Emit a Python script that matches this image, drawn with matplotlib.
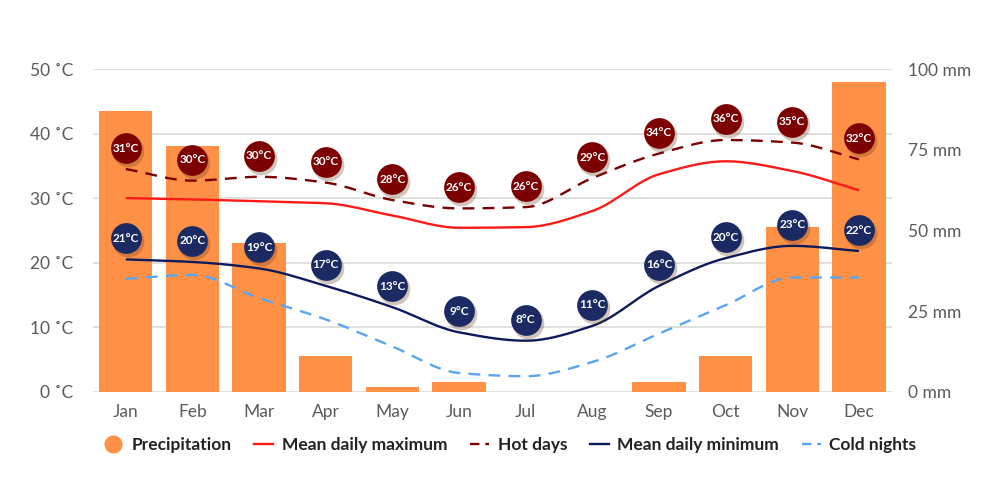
import numpy as np
import matplotlib
matplotlib.use('Agg')
import matplotlib.pyplot as plt
import matplotlib.transforms as mtransforms
from matplotlib.lines import Line2D

plt.rcParams['font.family'] = ['Lato', 'DejaVu Sans']

months = ['Jan', 'Feb', 'Mar', 'Apr', 'May', 'Jun', 'Jul', 'Aug', 'Sep', 'Oct', 'Nov', 'Dec']
precipitation = [87, 76, 46, 11, 1.5, 3, 0, 0, 3, 11, 51, 96]
mean_max = [30.0, 29.8, 29.5, 29.2, 27.3, 25.4, 25.5, 28.0, 33.7, 35.7, 34.2, 31.2]
hot_days = [34.5, 32.7, 33.3, 32.4, 29.7, 28.4, 28.6, 33.1, 36.9, 39.0, 38.6, 36.0]
mean_min = [20.5, 20.1, 19.1, 16.4, 13.1, 9.2, 7.9, 10.2, 16.4, 20.7, 22.6, 21.8]
cold_nights = [17.5, 18.1, 14.5, 11.2, 7.0, 2.9, 2.4, 4.6, 9.0, 13.4, 17.7, 17.7]
max_labels = [31, 30, 30, 30, 28, 26, 26, 29, 34, 36, 35, 32]
min_labels = [21, 20, 19, 17, 13, 9, 8, 11, 16, 20, 23, 22]

temp_ticks = [0, 10, 20, 30, 40, 50]
rain_ticks = [0, 25, 50, 75, 100]

ORANGE = '#ff9147'
RED = '#ff1a1a'
MAROON = '#7d0000'
NAVY = '#0e1b5a'
LIGHTBLUE = '#5aa5f0'
CIRCLE_BLUE = '#1b2a62'
GREY = '#5a5a5a'


def smooth(x, y, n=30):
    # monotone cubic (Fritsch-Carlson) just for drawing the curve
    x = np.asarray(x, float)
    y = np.asarray(y, float)
    h = np.diff(x)
    d = np.diff(y) / h
    m = np.zeros_like(y)
    m[0], m[-1] = d[0], d[-1]
    for i in range(1, len(y) - 1):
        if d[i - 1] * d[i] <= 0:
            m[i] = 0
        else:
            m[i] = 2 / (1 / d[i - 1] + 1 / d[i])
    xs, ys = [], []
    for i in range(len(x) - 1):
        t = np.linspace(0, 1, n, endpoint=False)
        h00 = 2 * t**3 - 3 * t**2 + 1
        h10 = t**3 - 2 * t**2 + t
        h01 = -2 * t**3 + 3 * t**2
        h11 = t**3 - t**2
        xs.append(x[i] + t * h[i])
        ys.append(h00 * y[i] + h10 * h[i] * m[i] + h01 * y[i + 1] + h11 * h[i] * m[i + 1])
    xs.append([x[-1]])
    ys.append([y[-1]])
    return np.concatenate(xs), np.concatenate(ys)


fig = plt.figure(figsize=(10, 5), dpi=100)
ax = fig.add_axes([0.0925, 0.2166, 0.7998, 0.6454])
ax2 = ax.twinx()

x = np.arange(len(months))

# precipitation bars on the right axis
ax2.bar(x, precipitation, width=0.8, color=ORANGE, zorder=1)
ax2.set_ylim(0, 100)
ax2.set_yticks(rain_ticks)
ax2.set_yticklabels(['%d mm' % v for v in rain_ticks])

ax.set_zorder(ax2.get_zorder() + 1)
ax.patch.set_visible(False)

for series, color, ls in [(mean_max, RED, '-'), (hot_days, MAROON, (0, (5, 3.5))),
                          (mean_min, NAVY, '-'), (cold_nights, LIGHTBLUE, (0, (5, 3.5)))]:
    sx, sy = smooth(x, series)
    ax.plot(sx, sy, color=color, lw=1.7, ls=ls, solid_capstyle='butt', zorder=3)

# value bubbles
lift = mtransforms.offset_copy(ax.transData, fig=fig, x=0, y=21, units='dots')
shadow = mtransforms.offset_copy(ax.transData, fig=fig, x=2, y=18, units='dots')
for base, labels, color in [(hot_days, max_labels, MAROON), (mean_min, min_labels, CIRCLE_BLUE)]:
    ax.scatter(x, base, s=520, color='#6a4020', alpha=0.3, linewidths=0,
               transform=shadow, zorder=4)
    ax.scatter(x, base, s=490, color=color, linewidths=0, transform=lift, zorder=5)
    for xi, yi, lab in zip(x, base, labels):
        ax.text(xi, yi, '%d°C' % lab, transform=lift, ha='center', va='center',
                color='white', fontsize=8.5, fontweight='bold', zorder=6)

ax.set_xlim(-0.5, 11.5)
ax2.set_xlim(-0.5, 11.5)
ax.set_ylim(0, 50)
ax.set_yticks(temp_ticks)
ax.set_yticklabels(['%d ˚C' % v for v in temp_ticks])
ax.set_xticks(x)
ax.set_xticklabels(months)

ax2.grid(False)
for v in temp_ticks:
    ax2.axhline(v * 2, color='#e0e0e0', lw=1.4, zorder=0)

for a in (ax, ax2):
    for s in a.spines.values():
        s.set_visible(False)
    a.tick_params(length=0, labelsize=12.5, labelcolor=GREY)
ax.tick_params(axis='y', pad=14)
ax2.tick_params(axis='y', pad=11)
ax.tick_params(axis='x', pad=9)

handles = [
    Line2D([], [], ls='none', marker='o', markersize=12, color=ORANGE),
    Line2D([], [], color=RED, lw=1.7),
    Line2D([], [], color=MAROON, lw=1.7, ls=(0, (4, 2.5))),
    Line2D([], [], color=NAVY, lw=1.7),
    Line2D([], [], color=LIGHTBLUE, lw=1.7, ls=(0, (4, 2.5))),
]
names = ['Precipitation', 'Mean daily maximum', 'Hot days', 'Mean daily minimum', 'Cold nights']
leg = fig.legend(handles, names, loc='center', bbox_to_anchor=(0.51, 0.11), ncol=5,
                 frameon=False, handlelength=1.1, handletextpad=0.5, columnspacing=1.3,
                 prop={'weight': 'bold', 'size': 12.5})
for t in leg.get_texts():
    t.set_color('#222222')

fig.savefig('out.png', dpi=100, facecolor='white')
